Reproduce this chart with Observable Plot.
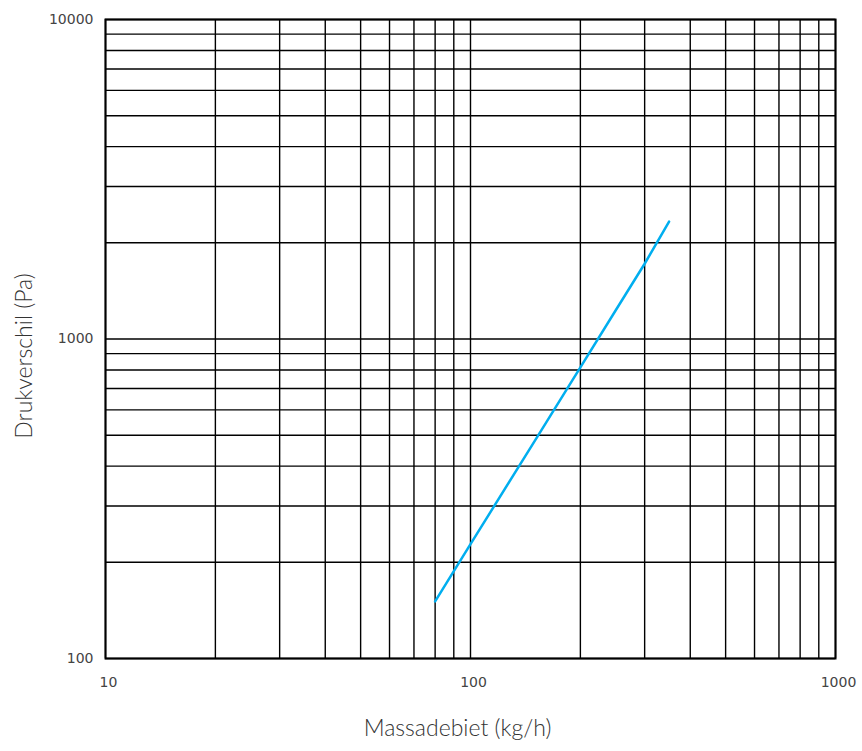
<!DOCTYPE html>
<html><head><meta charset="utf-8">
<script src="https://cdn.jsdelivr.net/npm/d3@7"></script>
<script src="https://cdn.jsdelivr.net/npm/@observablehq/plot@0.6"></script>
<style>body{margin:0;background:#fff}</style>
</head><body><div id="chart"></div>
<script>
const massFlow = [80, 100, 150, 200, 250, 300, 350];
const pressureDrop = [151, 228, 480, 815, 1230, 1720, 2330];
const xTicks = [10, 100, 1000];
const yTicks = [100, 1000, 10000];
const xGrid = [10,20,30,40,50,60,70,80,90,100,200,300,400,500,600,700,800,900,1000];
const yGrid = [100,200,300,400,500,600,700,800,900,1000,2000,3000,4000,5000,6000,7000,8000,9000,10000];
const xTitle = "Massadebiet (kg/h)";
const yTitle = "Drukverschil (Pa)";

const data = massFlow.map((m, i) => ({m, p: pressureDrop[i]}));
const chart = Plot.plot({
  width: 862, height: 751,
  marginLeft: 105, marginRight: 27, marginTop: 19, marginBottom: 93,
  style: {fontFamily: "DejaVu Sans", background: "#fff"},
  x: {type: "log", domain: [10, 1000]},
  y: {type: "log", domain: [100, 10000]},
  marks: [
    Plot.ruleX(xGrid, {stroke: "#000", strokeWidth: 1.4}),
    Plot.ruleY(yGrid, {stroke: "#000", strokeWidth: 1.4}),
    Plot.frame({stroke: "#000", strokeWidth: 2}),
    Plot.axisX({ticks: xTicks, tickSize: 0, tickPadding: 19, dx: 3, label: null, tickFormat: d => String(d), fontSize: 14, fill: "#444"}),
    Plot.axisY({ticks: yTicks, tickSize: 0, tickPadding: 12, label: null, tickFormat: d => String(d), fontSize: 14, fill: "#444"}),
    Plot.line(data, {x: "m", y: "p", stroke: "#00AEEF", strokeWidth: 2.5}),
    Plot.text([xTitle], {frameAnchor: "bottom", textAnchor: "middle", dy: 77, dx: -13, fontSize: 23, fill: "#333", fontFamily: "Lato", fontWeight: 300}),
    Plot.text([yTitle], {frameAnchor: "left", textAnchor: "middle", dx: -81, dy: 17, rotate: -90, fontSize: 23, fill: "#333", fontFamily: "Lato", fontWeight: 300})
  ]
});
document.getElementById("chart").append(chart);
</script>
</body></html>
